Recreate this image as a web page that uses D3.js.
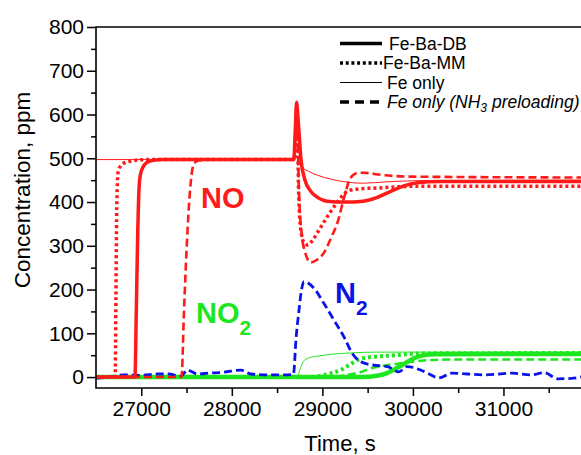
<!DOCTYPE html>
<html>
<head>
<meta charset="utf-8">
<script src="https://cdn.jsdelivr.net/npm/d3@7"></script>
<style>
   body { margin: 0; background: #fff; }
   svg { display: block; font-family: Arial, "Liberation Sans", sans-serif; }
</style>
</head>
<body>
<div id="chart"></div>
<script>
"use strict";

// [time s, ppm]
const noFeBaDB = [[26500,0],[26930,0],[26945,150],[26960,320],[26975,430],[26990,462],[27020,480],[27060,490],[27120,495],[27250,497],[28685,497],[28700,560],[28715,628],[28735,580],[28765,495],[28805,452],[28870,425],[28950,410],[29050,402],[29250,400],[29450,402],[29600,410],[29750,424],[29900,437],[30050,444],[30300,447],[31950,447]];
const noFeBaMM = [[26500,0],[26712,0],[26720,180],[26730,400],[26745,470],[26770,482],[26820,490],[26900,494],[27050,497],[28688,497],[28705,560],[28720,600],[28738,420],[28760,340],[28800,306],[28840,302],[28900,315],[28960,335],[29050,365],[29160,398],[29280,425],[29400,430],[29600,432],[30000,436],[31950,436]];
const noFeOnly = [[26500,497],[28688,497],[28705,560],[28720,600],[28742,530],[28770,482],[28850,470],[28950,461],[29100,452],[29250,446],[29450,443],[29700,446],[30100,449],[31950,450]];
const noFeNH3 = [[26500,0],[27445,0],[27470,140],[27500,290],[27540,430],[27575,484],[27620,494],[27700,497],[28688,497],[28705,560],[28720,590],[28742,420],[28770,330],[28810,285],[28870,262],[28940,268],[29020,285],[29100,320],[29170,355],[29240,410],[29310,455],[29380,466],[29450,467],[29650,462],[30000,458],[31950,456]];

const no2FeBaDB = [[26500,0],[29450,0],[29600,3],[29700,8],[29800,18],[29900,30],[30000,42],[30100,49],[30250,52],[31950,53]];
const no2FeBaMM = [[26500,0],[28900,0],[29000,4],[29100,9],[29200,16],[29300,28],[29400,40],[29550,46],[29750,49],[30100,54],[31950,55]];
const no2FeOnly = [[26500,0],[28720,0],[28760,22],[28800,38],[28870,45],[28950,48],[29100,52],[29300,55],[29600,57],[31950,57]];
const no2FeNH3 = [[26500,0],[29100,0],[29250,4],[29400,10],[29570,22],[29750,28],[29950,34],[30120,38],[30400,40],[31950,40]];

const n2FeNH3 = [[26500,-3],[26650,0],[26807,5],[27000,4],[27179,7],[27300,7],[27436,2],[27510,16],[27620,7],[27750,9],[27911,11],[28099,16],[28209,7],[28393,5],[28573,5],[28680,6],[28710,90],[28742,153],[28770,200],[28797,218],[28907,203],[29018,168],[29128,130],[29238,92],[29331,54],[29423,35],[29570,27],[29717,24],[29845,12],[29938,24],[30085,16],[30160,9],[30290,-2],[30430,9],[30600,7],[30800,5],[30950,7],[31100,9],[31300,5],[31450,10],[31600,-4],[31750,-3],[31900,2]];

const legendNames = ["Fe-Ba-DB", "Fe-Ba-MM", "Fe only", "Fe only (NH3 preloading)"];
const xTickValues = [27000, 28000, 29000, 30000, 31000];
const yTickValues = [0, 100, 200, 300, 400, 500, 600, 700, 800];

(function () {
   const width = 581;
   const height = 455;
   const margin = { left: 96, top: 27, bottom: 388 };

   const red = "#ff1a1a";
   const green = "#1ee61e";
   const blue = "#0a14e6";

   const styles = {
      db:   { width: 3.5, dash: null },
      mm:   { width: 3.5, dash: "3,3" },
      thin: { width: 1, dash: null },
      nh3:  { width: 2.6, dash: "8,4" }
   };

   const x = d3.scaleLinear().domain([26500, 32000]).range([96, 594]);
   const y = d3.scaleLinear().domain([-25, 800]).range([margin.bottom, margin.top]);

   const svg = d3.select("#chart").append("svg")
      .attr("width", width)
      .attr("height", height);

   svg.append("clipPath")
      .attr("id", "plotClip")
      .append("rect")
      .attr("x", margin.left)
      .attr("y", margin.top)
      .attr("width", 600)
      .attr("height", margin.bottom - margin.top);

   const line = d3.line()
      .x(d => x(d[0]))
      .y(d => y(d[1]))
      .curve(d3.curveMonotoneX);

   const plot = svg.append("g").attr("clip-path", "url(#plotClip)");

   function drawSeries(data, colour, style, widthOverride) {
      plot.append("path")
         .datum(data)
         .attr("d", line)
         .attr("fill", "none")
         .attr("stroke", colour)
         .attr("stroke-width", widthOverride || style.width)
         .attr("stroke-dasharray", style.dash)
         .attr("stroke-linejoin", "round");
   }

   // green first so the red and blue sit on top
   drawSeries(no2FeNH3, green, styles.nh3);
   drawSeries(no2FeOnly, green, styles.thin);
   drawSeries(no2FeBaMM, green, styles.mm, 4);
   drawSeries(no2FeBaDB, green, styles.db, 4.5);
   drawSeries(n2FeNH3, blue, styles.nh3, 2.8);
   drawSeries(noFeOnly, red, styles.thin);
   drawSeries(noFeNH3, red, styles.nh3);
   drawSeries(noFeBaMM, red, styles.mm);
   drawSeries(noFeBaDB, red, styles.db);

   // axes
   const yAxis = d3.axisLeft(y)
      .tickValues(yTickValues)
      .tickSize(9)
      .tickPadding(3)
      .tickSizeOuter(0);
   const yMinor = d3.axisLeft(y)
      .tickValues(d3.range(50, 800, 100))
      .tickSize(5)
      .tickFormat("")
      .tickSizeOuter(0);
   const xAxis = d3.axisBottom(x)
      .tickValues(xTickValues)
      .tickSize(8)
      .tickPadding(5)
      .tickFormat(d3.format("d"))
      .tickSizeOuter(0);
   const xMinor = d3.axisBottom(x)
      .tickValues(d3.range(27500, 32000, 1000))
      .tickSize(5)
      .tickFormat("")
      .tickSizeOuter(0);

   function styleAxis(g) {
      g.select(".domain").remove();
      g.selectAll("line").attr("stroke", "#000").attr("stroke-width", 1.5);
      g.selectAll("text")
         .attr("fill", "#000")
         .style("font-size", "21px")
         .style("font-family", "Arial, 'Liberation Sans', sans-serif");
   }

   svg.append("g").attr("transform", `translate(${margin.left},0)`).call(yAxis).call(styleAxis);
   svg.append("g").attr("transform", `translate(${margin.left},0)`).call(yMinor).call(styleAxis);
   svg.append("g").attr("transform", `translate(0,${margin.bottom})`).call(xAxis).call(styleAxis);
   svg.append("g").attr("transform", `translate(0,${margin.bottom})`).call(xMinor).call(styleAxis);

   // frame: left, bottom, top (right side is cut off)
   svg.append("path")
      .attr("d", `M${width},${margin.top}H${margin.left}V${margin.bottom}H${width}`)
      .attr("fill", "none")
      .attr("stroke", "#000")
      .attr("stroke-width", 1.6);

   svg.append("text")
      .attr("x", 340)
      .attr("y", 451)
      .attr("text-anchor", "middle")
      .style("font-size", "22px")
      .text("Time, s");

   svg.append("text")
      .attr("transform", "translate(30,190) rotate(-90)")
      .attr("text-anchor", "middle")
      .style("font-size", "22.5px")
      .text("Concentration, ppm");

   // gas labels
   svg.append("text")
      .attr("x", 201)
      .attr("y", 208)
      .attr("fill", red)
      .style("font-size", "29px")
      .style("font-weight", "bold")
      .text("NO");

   const no2 = svg.append("text")
      .attr("x", 196)
      .attr("y", 323)
      .attr("fill", green)
      .style("font-size", "29px")
      .style("font-weight", "bold");
   no2.append("tspan").text("NO");
   no2.append("tspan").attr("dy", 12).style("font-size", "21px").text("2");

   const n2 = svg.append("text")
      .attr("x", 335)
      .attr("y", 303)
      .attr("fill", blue)
      .style("font-size", "29px")
      .style("font-weight", "bold");
   n2.append("tspan").text("N");
   n2.append("tspan").attr("dy", 12).style("font-size", "21px").text("2");

   // legend
   const legendStyles = [
      { width: 3.5, dash: null, textX: 389 },
      { width: 3.5, dash: "3,2.7", textX: 383 },
      { width: 1, dash: null, textX: 387 },
      { width: 3.5, dash: "9,6", textX: 387 }
   ];
   const legend = svg.append("g");

   legendNames.forEach((name, i) => {
      const st = legendStyles[i];
      const rowY = 43.5 + i * 19.5;

      legend.append("line")
         .attr("x1", 340)
         .attr("x2", 382)
         .attr("y1", rowY)
         .attr("y2", rowY)
         .attr("stroke", "#000")
         .attr("stroke-width", st.width)
         .attr("stroke-dasharray", st.dash);

      const label = legend.append("text")
         .attr("x", st.textX)
         .attr("y", rowY + 6)
         .style("font-size", "17.5px");

      if (name.includes("NH3")) {
         label.style("font-style", "italic");
         label.append("tspan").text("Fe only (NH");
         label.append("tspan").attr("dy", 4).style("font-size", "12px").text("3");
         label.append("tspan").attr("dy", -4).text(" preloading)");
      }
      else {
         label.text(name);
      }
   });
})();
</script>
</body>
</html>
